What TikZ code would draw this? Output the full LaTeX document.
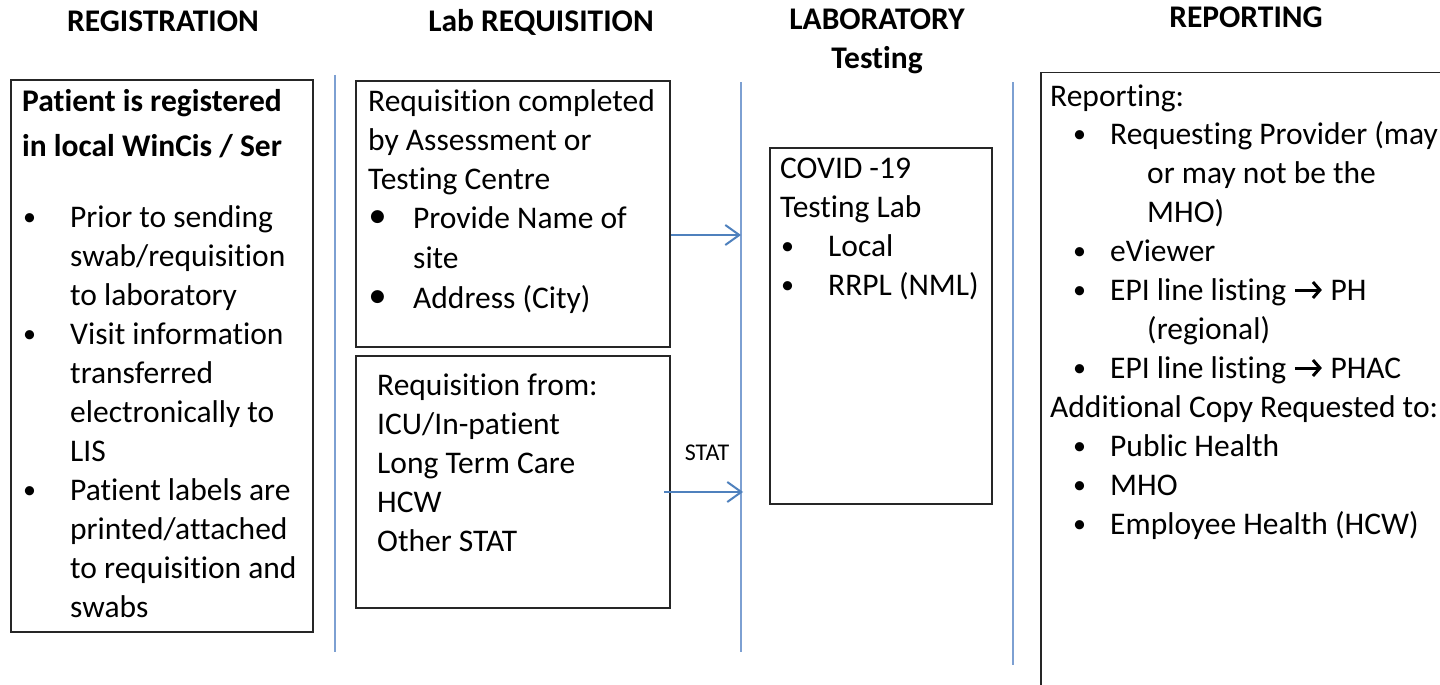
\documentclass[tikz,border=0pt]{standalone}
\usepackage{fontspec}
\setmainfont{Carlito}[RawFeature={-liga;-clig;-calt;-dlig}]
\newfontfamily\symf{DejaVu Sans}
\usetikzlibrary{arrows.meta}
\definecolor{lanec}{RGB}{125,160,210}
\definecolor{arrc}{RGB}{79,129,189}
\newcommand\zk{\kern0pt }
\newcommand\bodyf{\fontsize{31.5}{39}\selectfont}
\newcommand\bul[1]{\makebox[#1][l]{\raisebox{2pt}{\fontsize{26}{26}\selectfont\textbullet}}}
\newcommand\bigbul{\makebox[43pt][l]{\raisebox{7pt}{\symf\fontsize{17}{17}\selectfont ●}}}
\newcommand\rarr{\tikz[x=1pt,y=1pt,baseline=0pt]\draw[line width=3pt,-{Straight Barb[length=7pt,width=16pt,line width=3pt]}] (0,10) -- (27,10);}
\begin{document}
\begin{tikzpicture}[x=1pt,y=-1pt,
  box/.style={draw=black!85, line width=1.5pt, anchor=north west, inner sep=0pt},
  tx/.style={anchor=base west, inner sep=0pt, font=\bodyf},
  bt/.style={tx, font=\bodyf\bfseries},
  hd/.style={anchor=base, inner sep=0pt, font=\bodyf\bfseries},
  lane/.style={draw=lanec, line width=1.5pt},
  flow/.style={draw=arrc, line width=2pt, -{Straight Barb[length=14pt,width=20pt,line width=2pt]}}]
\useasboundingbox (0,0) rectangle (1440,685);
\clip (0,0) rectangle (1440,685);
\fill[white] (0,0) rectangle (1440,685);

% headers
\node[hd] (h1) at (163,32) {REGISTRATION};
\node[hd] (h2) at (541,32) {Lab REQUISITION};
\node[hd] (h3a) at (877,30) {LABORATORY};
\node[hd] (h3b) at (877,69) {Test\zk ing};
\node[hd] (h4) at (1246,28) {REPORTING};

% lanes
\coordinate (l1t) at (335,75);  \coordinate (l1b) at (335,652);
\coordinate (l2t) at (741,82);  \coordinate (l2b) at (741,652);
\coordinate (l3t) at (1013,82); \coordinate (l3b) at (1013,665);
\draw[lane] (l1t) -- (l1b);
\draw[lane] (l2t) -- (l2b);
\draw[lane] (l3t) -- (l3b);

% boxes
\node[box, minimum width=302pt, minimum height=552pt] (reg) at (10,79) {};
\node[box, minimum width=314pt, minimum height=266pt] (req1) at (355,80) {};
\node[box, minimum width=314pt, minimum height=252pt] (req2) at (355,355) {};
\node[box, minimum width=222pt, minimum height=356pt] (lab) at (769,147) {};
\node[box, minimum width=500pt, minimum height=700pt] (rep) at (1040,72) {};

% box 1 text
\node[bt] (a1) at (22,111) {Pat\zk ient is registered};
\node[bt] (a2) at (22,156) {in local WinCis / Ser};
\node[tx] (a3) at (23,227) {\bul{47pt}Prior to sending};
\node[tx] (a4) at (70,266) {swab/requisit\zk ion};
\node[tx] (a5) at (70,305) {to laboratory};
\node[tx] (a6) at (23,344) {\bul{47pt}Visit informat\zk ion};
\node[tx] (a7) at (70,383) {transferred};
\node[tx] (a8) at (70,422) {electronically to};
\node[tx] (a9) at (70,461) {LIS};
\node[tx] (a10) at (23,500) {\bul{47pt}Pat\zk ient labels are};
\node[tx] (a11) at (70,539) {printed/attached};
\node[tx] (a12) at (70,578) {to requisit\zk ion and};
\node[tx] (a13) at (70,617) {swabs};

% box 2 text
\node[tx] (b1) at (368,111) {Requisit\zk ion completed};
\node[tx] (b2) at (368,150) {by Assessment or};
\node[tx] (b3) at (368,189) {Test\zk ing Centre};
\node[tx] (b4) at (370,228) {\bigbul Provide Name of};
\node[tx] (b5) at (413,268) {site};
\node[tx] (b6) at (370,308) {\bigbul Address (City)};

% box 3 text
\node[tx] (c1) at (377,395) {Requisit\zk ion from:};
\node[tx] (c2) at (377,434) {ICU/In-pat\zk ient};
\node[tx] (c3) at (377,473) {Long Term Care};
\node[tx] (c4) at (377,512) {HCW};
\node[tx] (c5) at (377,551) {Other STAT};

% box 4 text
\node[tx] (d1) at (780,178) {COVID -19};
\node[tx] (d2) at (780,217) {Test\zk ing Lab};
\node[tx] (d3) at (781,256) {\bul{47pt}Local};
\node[tx] (d4) at (781,295) {\bul{47pt}RRPL (NML)};

% box 5 text
\node[tx] (e1) at (1050,106) {Report\zk ing:};
\node[tx] (e2) at (1073,144) {\bul{37pt}Request\zk ing Provider (may};
\node[tx] (e3) at (1147,183) {or may not be the};
\node[tx] (e4) at (1147,222) {MHO)};
\node[tx] (e5) at (1073,261) {\bul{37pt}eViewer};
\node[tx] (e6) at (1073,300) {\bul{37pt}EPI line list\zk ing \rarr{} PH};
\node[tx] (e7) at (1147,339) {(regional)};
\node[tx] (e8) at (1073,378) {\bul{37pt}EPI line list\zk ing \rarr{} PHAC};
\node[tx] (e9) at (1050,417) {Addit\zk ional Copy Requested to:};
\node[tx] (e10) at (1073,456) {\bul{37pt}Public Health};
\node[tx] (e11) at (1073,495) {\bul{37pt}MHO};
\node[tx] (e12) at (1073,534) {\bul{37pt}Employee Health (HCW)};

% arrows
\coordinate (t1) at (741,235);
\coordinate (t2) at (743,492);
\coordinate (s2) at (664,492);
\draw[flow] (req1.east |- t1) -- (t1);
\draw[flow] (s2) -- (t2);
\node[anchor=base, inner sep=0pt, font=\fontsize{24}{28}\selectfont] (stat) at (707,460) {STAT};
\end{tikzpicture}
\end{document}
